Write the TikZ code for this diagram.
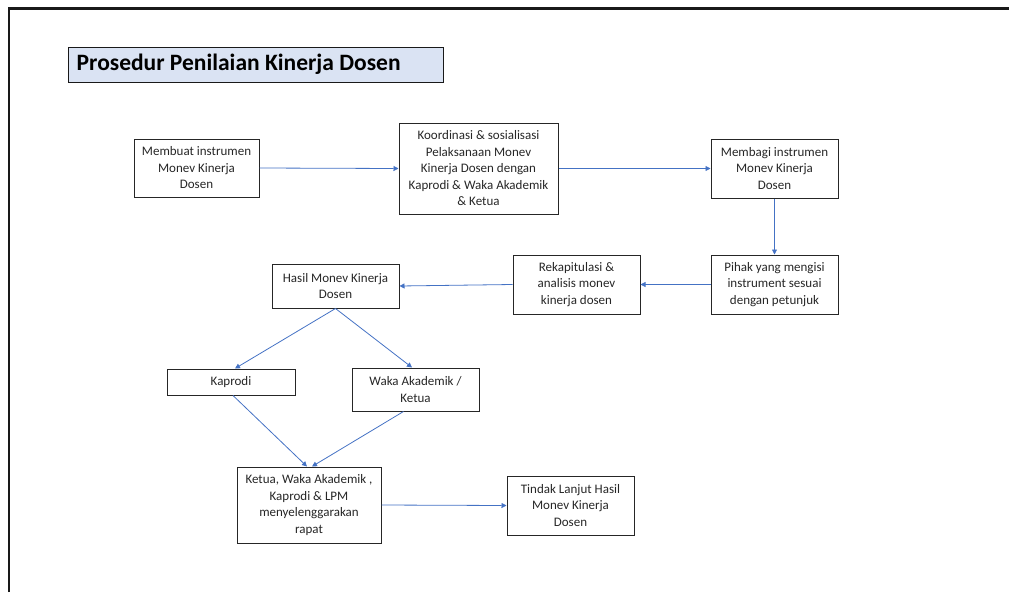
\documentclass[tikz,border=0pt]{standalone}
\usepackage{fontspec}
\setmainfont{Carlito}
\usetikzlibrary{arrows.meta}
\definecolor{arrblue}{HTML}{4472C4}
\definecolor{titlefill}{HTML}{DAE3F3}
\begin{document}
\begin{tikzpicture}[x=1pt,y=-1pt,
  box/.style={draw=black!85,line width=1pt,align=center,inner sep=0pt,
    font=\fontsize{13}{16.5}\selectfont,text=black!85},
  conn/.style={draw=arrblue,line width=0.8pt,-{Triangle[length=5pt,width=5pt]}}]
\useasboundingbox (0,0) rectangle (1009,592);
\draw[line width=2.2pt,black!90] (9,592) -- (9,8.5) -- (1009,8.5);
\node[draw=black!90,fill=titlefill,line width=1pt,minimum width=375pt,minimum height=35pt,inner sep=0pt,anchor=north west] (title) at (68,47) {};
\node[anchor=west,font=\fontsize{23.5}{28}\selectfont\bfseries,inner sep=0pt] (ttext) at (76.5,64) {Prosedur Penilaian Kinerja Dosen};
\node[box,minimum width=125pt,minimum height=58pt] (a) at (196.5,168) {Membuat instrumen\\Monev Kinerja\\Dosen};
\node[box,minimum width=159pt,minimum height=91pt] (b) at (478.5,168.5) {Koordinasi \& sosialisasi\\Pelaksanaan Monev\\Kinerja Dosen dengan\\Kaprodi \& Waka Akademik\\\& Ketua};
\node[box,minimum width=127pt,minimum height=59pt] (c) at (774.5,168.5) {Membagi instrumen\\Monev Kinerja\\Dosen};
\node[box,minimum width=127pt,minimum height=59pt] (d) at (774.5,284.5) {Pihak yang mengisi\\instrument sesuai\\dengan petunjuk};
\node[box,minimum width=127pt,minimum height=59pt] (e) at (576.5,284.5) {Rekapitulasi \&\\analisis monev\\kinerja dosen};
\node[box,minimum width=127pt,minimum height=44pt] (f) at (335.5,286) {Hasil Monev Kinerja\\Dosen};
\node[box,minimum width=128pt,minimum height=26pt] (g) at (231,382) {Kaprodi};
\node[box,minimum width=127pt,minimum height=43pt] (h) at (415.5,389.5) {Waka Akademik /\\Ketua};
\node[box,minimum width=144pt,minimum height=76pt] (i) at (309,505) {Ketua, Waka Akademik ,\\Kaprodi \& LPM\\menyelenggarakan\\rapat};
\node[box,minimum width=127pt,minimum height=59pt] (j) at (570.5,505.5) {Tindak Lanjut Hasil\\Monev Kinerja\\Dosen};
\draw[conn] (a.east) -- (b.west);
\draw[conn] (b.east) -- (c.west);
\draw[conn] (c.south) -- (d.north);
\draw[conn] (d.west) -- (e.west -| e.east);
\draw[conn] (e.west) -- (f.east);
\draw[conn] (f.south) -- ([xshift=4pt]g.north);
\draw[conn] (f.south) -- ([xshift=-3.5pt]h.north);
\draw[conn] ([xshift=2pt]g.south) -- ([xshift=-2pt]i.north);
\draw[conn] ([xshift=-12pt]h.south) -- ([xshift=3pt]i.north);
\draw[conn] (i.east) -- (j.west);
\end{tikzpicture}
\end{document}
